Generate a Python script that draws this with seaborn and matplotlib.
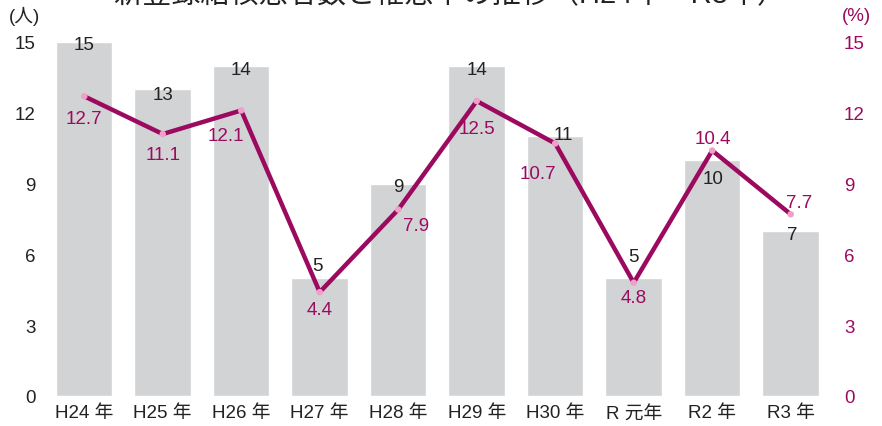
import numpy as np
import pandas as pd
import seaborn as sns
import matplotlib.pyplot as plt

# data
years = ["H24 年", "H25 年", "H26 年", "H27 年", "H28 年",
         "H29 年", "H30 年", "R 元年", "R2 年", "R3 年"]
patients = [15, 13, 14, 5, 9, 14, 11, 5, 10, 7]
rates = [12.7, 11.1, 12.1, 4.4, 7.9, 12.5, 10.7, 4.8, 10.4, 7.7]

# label offsets in pixels (dx, dy) relative to bar top / line point
count_offsets = [(0, -3), (0, -5), (0, -4), (-2, 12), (0, -3),
                 (0, -4), (8, 2), (0, 21), (1, -19), (2, -4)]
rate_offsets = [(0, -22), (0, -20), (-15, -25), (0, -17), (18, -16),
                (0, -28), (-17, -30), (0, -15), (1, 12), (8, 12)]

BAR = "#d2d3d5"
LINE = "#9c0a60"
DOT = "#f0a0c8"
TXT = "#222222"
FS = 13.5

sns.set_style("white")
plt.rcParams["font.family"] = ["Liberation Sans", "Noto Sans CJK JP"]

df = pd.DataFrame({"year": years, "patients": patients, "rate": rates})

fig = plt.figure(figsize=(8.82, 4.27), dpi=100)
ax = fig.add_axes([0.051, 0.0703, 0.890, 0.829])

sns.barplot(data=df, x="year", y="patients", color=BAR, width=0.72,
            saturation=1, ax=ax)
ax.set_ylim(0, 15)
ax.set_xlim(-0.5, 9.5)
ax.set_yticks(range(0, 16, 3))
ax.set_xlabel("")
ax.set_ylabel("")
ax.tick_params(axis="both", length=0, labelsize=FS, colors=TXT)
ax.tick_params(axis="y", pad=7)
ax.tick_params(axis="x", pad=6)
sns.despine(ax=ax, left=True, bottom=True)

ax2 = ax.twinx()
sns.lineplot(x=np.arange(len(rates)), y=rates, color=LINE, linewidth=3.2,
             ax=ax2)
ax2.scatter(np.arange(len(rates)), rates, s=22, color=DOT, zorder=5,
            edgecolors="none")
ax2.set_ylim(0, 15)
ax2.set_yticks(range(0, 16, 3))
ax2.tick_params(axis="y", length=0, labelsize=FS, colors=LINE, pad=10)
for s in ax2.spines.values():
    s.set_visible(False)

for i, (v, (dx, dy)) in enumerate(zip(patients, count_offsets)):
    ax.annotate(str(v), (i, v), xytext=(dx, dy), textcoords="offset pixels",
                ha="center", va="center", fontsize=FS, color=TXT)

for i, (v, (dx, dy)) in enumerate(zip(rates, rate_offsets)):
    ax2.annotate(f"{v}", (i, v), xytext=(dx, dy), textcoords="offset pixels",
                 ha="center", va="center", fontsize=FS, color=LINE,
                 zorder=6)

fig.text(0.010, 0.962, "(人)", fontsize=FS, color=TXT,
         ha="left", va="center")
fig.text(0.988, 0.962, "(%)", fontsize=FS, color=LINE,
         ha="right", va="center")
fig.text(0.51, 1.012, "新登録結核患者数と罹患率の推移（H24年～R3年）",
         fontsize=21, color=TXT, ha="center", va="center")

fig.savefig("out.png", dpi=100)
